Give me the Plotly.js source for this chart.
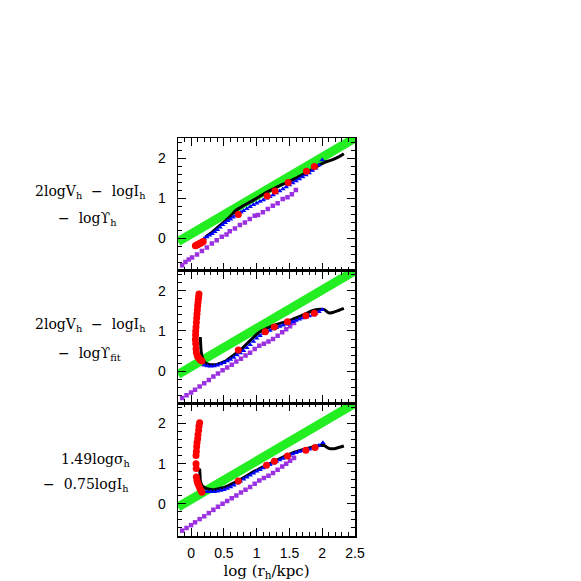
<!DOCTYPE html>
<html><head><meta charset="utf-8">
<script src="https://cdn.plot.ly/plotly-3.0.1.min.js"></script>
<style>html,body{margin:0;padding:0;background:#fff}</style>
</head><body><div id="chart" style="width:581px;height:581px"></div>
<script>
// ---- data ----
const xRange = [-0.2, 2.5];
const yRange = [-0.8, 2.5];
const greenX = [-0.2, 2.5];
const greenY = [-0.08, 2.5];

// top panel: 2logVh - logIh - logYh
const p1BlackX = [0.22,0.26,0.30,0.35,0.40,0.45,0.50,0.55,0.59,0.64,0.69,0.75,0.80,0.90,1.00,1.10,1.20,1.30,1.40,1.50,1.60,1.70,1.80,1.90,1.97,2.03,2.10,2.17,2.25,2.33];
const p1BlackY = [0.04,0.09,0.13,0.20,0.27,0.34,0.41,0.48,0.54,0.63,0.71,0.77,0.82,0.91,1.00,1.10,1.19,1.27,1.35,1.42,1.50,1.59,1.67,1.77,1.84,1.89,1.93,1.97,2.03,2.11];
const p1BlueX = [0.20,0.24,0.28,0.32,0.36,0.40,0.44,0.48,0.52,0.56,0.60,0.64,0.68,0.72,0.76,0.80,0.85,0.90,0.95,1.00,1.05,1.10,1.15,1.20,1.25,1.30,1.35,1.40,1.45,1.50,1.55,1.60,1.65,1.70,1.75,1.80,1.85,1.90,1.95,2.00];
const p1BlueY = [0.00,0.04,0.08,0.12,0.17,0.22,0.28,0.34,0.39,0.44,0.48,0.53,0.57,0.61,0.65,0.69,0.74,0.79,0.84,0.88,0.92,0.96,1.00,1.04,1.08,1.13,1.18,1.23,1.28,1.33,1.38,1.43,1.48,1.53,1.58,1.63,1.69,1.75,1.83,1.95];
const p1RedX = [0.065,0.08,0.095,0.11,0.125,0.14,0.155,0.17,0.185,0.72,1.16,1.28,1.48,1.76,1.88];
const p1RedY = [-0.18,-0.17,-0.155,-0.14,-0.13,-0.12,-0.105,-0.09,-0.075,0.60,1.06,1.18,1.39,1.67,1.79];
const p1PurpleX = [-0.136,-0.086,-0.036,0.015,0.09,0.165,0.24,0.316,0.39,0.467,0.54,0.59,0.668,0.744,0.82,0.894,0.97,1.02,1.095,1.17,1.246,1.32,1.397,1.47,1.537,1.598];
const p1PurpleY = [-0.667,-0.583,-0.525,-0.475,-0.40,-0.308,-0.225,-0.125,-0.042,0.042,0.10,0.183,0.25,0.333,0.40,0.483,0.567,0.583,0.65,0.733,0.817,0.875,0.983,1.025,1.10,1.208];

// middle panel: 2logVh - logIh - logYfit
const p2BlackX = [0.14,0.145,0.15,0.16,0.18,0.21,0.25,0.30,0.35,0.40,0.45,0.50,0.55,0.60,0.65,0.70,0.745,0.80,0.90,1.04,1.15,1.25,1.38,1.50,1.62,1.75,1.83,1.90,1.97,2.03,2.10,2.16,2.25,2.33];
const p2BlackY = [0.85,0.70,0.55,0.42,0.30,0.22,0.18,0.16,0.16,0.17,0.20,0.23,0.28,0.34,0.40,0.46,0.51,0.60,0.76,0.97,1.06,1.13,1.20,1.26,1.34,1.43,1.49,1.53,1.54,1.53,1.45,1.46,1.51,1.56];
const p2BlueX = [0.20,0.25,0.30,0.35,0.40,0.45,0.50,0.55,0.60,0.65,0.70,0.75,0.80,0.85,0.90,0.95,1.00,1.05,1.10,1.15,1.20,1.25,1.30,1.35,1.40,1.45,1.50,1.55,1.60,1.65,1.70,1.75,1.80,1.85,1.90,1.95,2.00];
const p2BlueY = [0.15,0.13,0.12,0.13,0.15,0.18,0.21,0.25,0.29,0.34,0.40,0.45,0.51,0.58,0.66,0.74,0.82,0.88,0.94,0.98,1.01,1.05,1.08,1.11,1.14,1.17,1.20,1.23,1.26,1.29,1.32,1.34,1.37,1.40,1.44,1.48,1.53];
const p2RedX = [0.12,0.115,0.11,0.105,0.10,0.095,0.09,0.085,0.08,0.075,0.07,0.068,0.065,0.07,0.075,0.08,0.095,0.115,0.14,0.165,0.72,1.13,1.27,1.47,1.75,1.88];
const p2RedY = [1.92,1.85,1.78,1.70,1.62,1.52,1.42,1.32,1.21,1.10,1.00,0.90,0.79,0.68,0.56,0.46,0.38,0.33,0.28,0.25,0.525,0.98,1.10,1.23,1.38,1.44];
const p2PurpleX = [-0.136,-0.07,0.0,0.06,0.13,0.2,0.27,0.34,0.41,0.48,0.55,0.62,0.69,0.76,0.83,0.9,0.97,1.04,1.11,1.18,1.25,1.32,1.39,1.45,1.51,1.57];
const p2PurpleY = [-0.667,-0.6,-0.53,-0.46,-0.38,-0.30,-0.22,-0.13,-0.06,0.02,0.09,0.16,0.24,0.31,0.39,0.46,0.55,0.63,0.68,0.74,0.80,0.88,0.97,1.04,1.12,1.20];

// bottom panel: 1.49logsigma_h - 0.75logIh
const p3BlackX = [0.13,0.135,0.14,0.15,0.165,0.20,0.24,0.29,0.34,0.40,0.49,0.60,0.72,0.83,0.94,1.05,1.15,1.25,1.35,1.45,1.55,1.65,1.75,1.83,1.90,1.97,2.03,2.10,2.18,2.25,2.33];
const p3BlackY = [0.875,0.75,0.58,0.52,0.46,0.41,0.375,0.36,0.35,0.37,0.40,0.48,0.58,0.68,0.79,0.88,0.96,1.04,1.12,1.20,1.27,1.32,1.37,1.40,1.43,1.45,1.45,1.38,1.37,1.40,1.44];
const p3BlueX = [0.20,0.25,0.30,0.35,0.40,0.45,0.50,0.55,0.60,0.65,0.70,0.75,0.80,0.85,0.90,0.95,1.00,1.05,1.10,1.15,1.20,1.25,1.30,1.35,1.40,1.45,1.50,1.55,1.60,1.65,1.70,1.75,1.80,1.85,1.90,1.95,2.01];
const p3BlueY = [0.31,0.30,0.30,0.30,0.31,0.33,0.35,0.38,0.42,0.46,0.51,0.56,0.61,0.66,0.71,0.76,0.81,0.85,0.89,0.93,0.97,1.01,1.05,1.09,1.13,1.17,1.21,1.24,1.27,1.30,1.32,1.34,1.36,1.38,1.41,1.45,1.52];
const p3RedX = [0.13,0.12,0.115,0.105,0.10,0.09,0.085,0.08,0.075,0.075,0.078,0.08,0.09,0.10,0.115,0.13,0.15,0.165,0.72,1.15,1.27,1.47,1.75,1.89];
const p3RedY = [2.02,1.93,1.83,1.72,1.62,1.52,1.42,1.30,1.20,1.00,0.88,0.67,0.58,0.52,0.46,0.40,0.33,0.29,0.57,0.96,1.06,1.19,1.33,1.40];
const p3PurpleX = [-0.136,-0.07,0.0,0.06,0.13,0.2,0.27,0.34,0.41,0.48,0.55,0.62,0.69,0.76,0.83,0.9,0.97,1.04,1.11,1.18,1.25,1.32,1.39,1.45,1.51,1.57];
const p3PurpleY = [-0.667,-0.6,-0.53,-0.46,-0.38,-0.31,-0.23,-0.15,-0.07,0.0,0.07,0.14,0.21,0.28,0.35,0.42,0.5,0.58,0.64,0.7,0.77,0.85,0.93,1.0,1.07,1.14];

const xTitle = 'log (r<sub>h</sub>/kpc)';
const panelLabels = [
  ['2logV<sub>h</sub>  −  logI<sub>h</sub>', '−  logϒ<sub>h</sub>'],
  ['2logV<sub>h</sub>  −  logI<sub>h</sub>', '−  logϒ<sub>fit</sub>'],
  ['1.49logσ<sub>h</sub>', '−  0.75logI<sub>h</sub>']
];

// ---- styles ----
const GREEN = '#22ee22', RED = '#ff0000', BLUE = '#0000ff', PURPLE = '#9b30e0', BLACK = '#000000';
const W = 581, H = 581, M = {l:178, r:226, t:138, b:45};

function panelTraces(ax, bx, by, blx, bly, rx, ry, px, py) {
  const xa = ax === 1 ? 'x' : 'x' + ax, ya = ax === 1 ? 'y' : 'y' + ax;
  return [
    {x: greenX, y: greenY, xaxis: xa, yaxis: ya, mode: 'lines', line: {color: GREEN, width: 9}, hoverinfo: 'skip'},
    {x: px, y: py, xaxis: xa, yaxis: ya, mode: 'markers', marker: {symbol: 'square', size: 4.5, color: PURPLE}},
    {x: bx, y: by, xaxis: xa, yaxis: ya, mode: 'lines', line: {color: BLACK, width: 3, shape: 'spline', smoothing: 0.6}},
    {x: blx, y: bly, xaxis: xa, yaxis: ya, mode: 'markers', marker: {symbol: 'triangle-up', size: 5, color: BLUE}},
    {x: rx, y: ry, xaxis: xa, yaxis: ya, mode: 'markers', marker: {symbol: 'circle', size: 7, color: RED}}
  ];
}

const data = [].concat(
  panelTraces(3, p1BlackX, p1BlackY, p1BlueX, p1BlueY, p1RedX, p1RedY, p1PurpleX, p1PurpleY),
  panelTraces(2, p2BlackX, p2BlackY, p2BlueX, p2BlueY, p2RedX, p2RedY, p2PurpleX, p2PurpleY),
  panelTraces(1, p3BlackX, p3BlackY, p3BlueX, p3BlueY, p3RedX, p3RedY, p3PurpleX, p3PurpleY)
);

const tickFont = {family: 'Liberation Sans, Arial, sans-serif', size: 14, color: '#000'};
function xAxis(anchor, labels) {
  return {
    domain: [0, 1], anchor: anchor, range: xRange, autorange: false,
    tick0: 0, dtick: 0.5, ticks: 'inside', ticklen: 8, tickwidth: 1, tickcolor: '#000',
    minor: {dtick: 0.1, ticks: 'inside', ticklen: 4, tickwidth: 1, tickcolor: '#000'},
    showline: true, linecolor: '#000', linewidth: 1.5, mirror: 'ticks',
    showgrid: false, zeroline: false, showticklabels: labels, tickfont: tickFont,
    ticklabelstandoff: 4
  };
}
function yAxis(anchor, dom) {
  return {
    domain: dom, anchor: anchor, range: yRange, autorange: false,
    tick0: 0, dtick: 1, ticks: 'inside', ticklen: 8, tickwidth: 1, tickcolor: '#000',
    minor: {dtick: 0.2, ticks: 'inside', ticklen: 4, tickwidth: 1, tickcolor: '#000'},
    showline: true, linecolor: '#000', linewidth: 1.5, mirror: 'ticks',
    showgrid: false, zeroline: false, tickfont: tickFont, ticklabelstandoff: 8
  };
}

const pw = W - M.l - M.r, ph = H - M.t - M.b;
function px2paper(x, y) { return {x: (x - M.l) / pw, y: (H - M.b - y) / ph}; }
const labelPos = [[[90,192],[87,219]], [[90,325],[89,354]], [[96,460],[86,485]]];
const annotations = [];
panelLabels.forEach((lines, i) => {
  lines.forEach((t, j) => {
    const p = px2paper(labelPos[i][j][0], labelPos[i][j][1]);
    annotations.push({text: t, x: p.x, y: p.y, xref: 'paper', yref: 'paper', xanchor: 'center', yanchor: 'middle',
      showarrow: false, font: {family: 'DejaVu Serif, serif', size: 14, color: '#000'}});
  });
});

const layout = {
  width: W, height: H, margin: M, paper_bgcolor: '#fff', plot_bgcolor: '#fff', showlegend: false,
  xaxis: Object.assign(xAxis('y', true), {title: {text: xTitle, standoff: 10, font: {family: 'DejaVu Serif, serif', size: 15, color: '#000'}}}),
  xaxis2: xAxis('y2', false),
  xaxis3: xAxis('y3', false),
  yaxis: yAxis('x', [0, 1/3]),
  yaxis2: yAxis('x2', [1/3, 2/3]),
  yaxis3: yAxis('x3', [2/3, 1]),
  annotations: annotations
};

Plotly.newPlot('chart', data, layout, {displayModeBar: false, staticPlot: true});
</script>
</body></html>
